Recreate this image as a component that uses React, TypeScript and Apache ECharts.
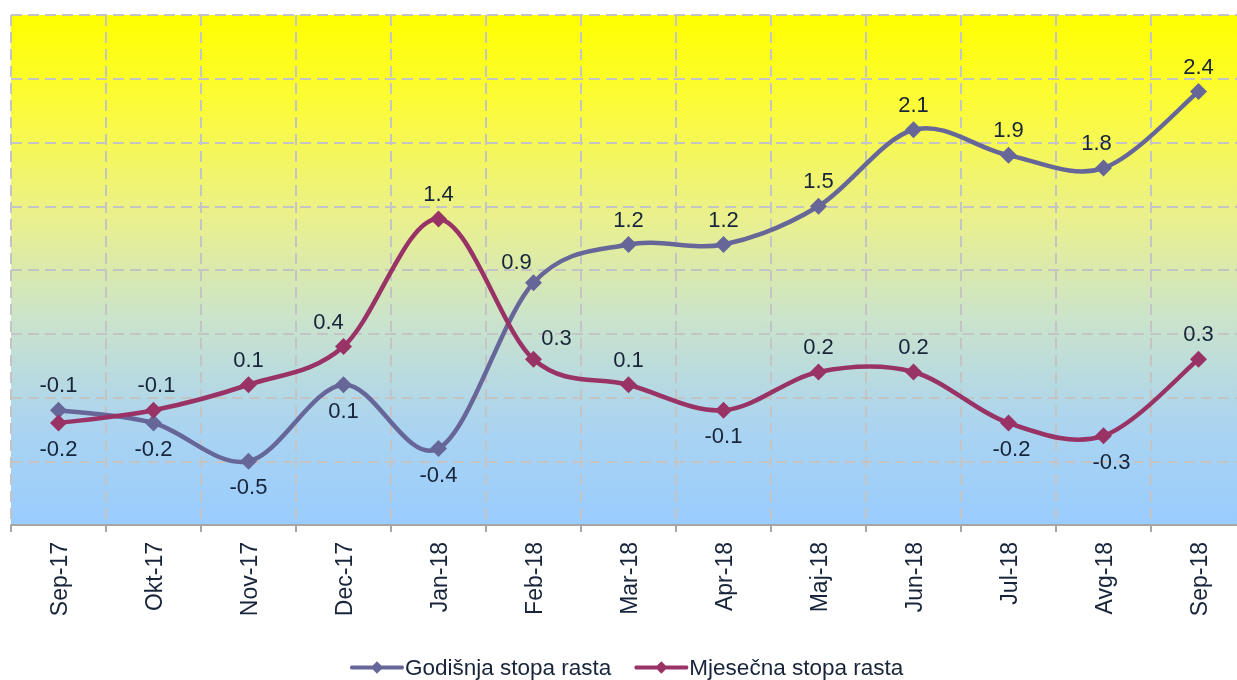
import React, { useEffect, useRef } from "react";
import * as echarts from "echarts";

const categories = ["Sep-17", "Okt-17", "Nov-17", "Dec-17", "Jan-18", "Feb-18", "Mar-18", "Apr-18", "Maj-18", "Jun-18", "Jul-18", "Avg-18", "Sep-18"];
const annualValues = [-0.1, -0.2, -0.5, 0.1, -0.4, 0.9, 1.2, 1.2, 1.5, 2.1, 1.9, 1.8, 2.4];
const monthlyValues = [-0.2, -0.1, 0.1, 0.4, 1.4, 0.3, 0.1, -0.1, 0.2, 0.2, -0.2, -0.3, 0.3];
// label placement: "t" above, "b" below
const annualLabelPos = ["t", "b", "b", "b", "b", "t", "t", "t", "t", "t", "t", "t", "t"];
const monthlyLabelPos = ["b", "t", "t", "t", "t", "t", "t", "b", "t", "t", "b", "b", "t"];
const annualLabelOffset: number[][] = [[0, 0], [0, 0], [0, 0], [0, 0], [0, 0], [-17, 4], [0, 0], [0, 0], [0, 0], [0, 0], [0, 0], [-7, 0], [0, 0]];
const monthlyLabelOffset: number[][] = [[0, 0], [3, 0], [0, 0], [-15, 0], [0, 0], [23, 4], [0, 0], [0, 0], [0, 0], [0, 0], [3, 0], [8, 0], [0, 0]];

const LABEL_COLOR = "#17243a";
const ANNUAL_COLOR = "#666699";
const MONTHLY_COLOR = "#993366";
const FONT = "Liberation Sans, Arial, sans-serif";

function buildData(values: number[], pos: string[], offs: number[][]) {
  return values.map((v, i) => ({
    value: v,
    label: {
      position: pos[i] === "t" ? "top" : "bottom",
      offset: offs[i],
    },
  }));
}

// Excel-like smoothed segment (Catmull-Rom style Bezier) drawn through the axes' scales
function makeCurveRenderer(values: number[], color: string) {
  return (params: any, api: any) => {
    const i = params.dataIndex;
    const n = values.length;
    if (i >= n - 1) return null;
    const p = (j: number) => {
      const k = Math.max(0, Math.min(n - 1, j));
      return api.coord([k, values[k]]);
    };
    const p0 = p(i - 1);
    const p1 = p(i);
    const p2 = p(i + 1);
    const p3 = p(i + 2);
    const t = 1 / 6;
    return {
      type: "bezierCurve",
      shape: {
        x1: p1[0],
        y1: p1[1],
        cpx1: p1[0] + (p2[0] - p0[0]) * t,
        cpy1: p1[1] + (p2[1] - p0[1]) * t,
        cpx2: p2[0] - (p3[0] - p1[0]) * t,
        cpy2: p2[1] - (p3[1] - p1[1]) * t,
        x2: p2[0],
        y2: p2[1],
      },
      style: { stroke: color, lineWidth: 4.5, fill: null, lineCap: "round" },
    };
  };
}

const legendIcon = "path://M2,5 L52,5 Q54,7 52,9 L2,9 Q0,7 2,5 Z M27,1 L33,7 L27,13 L21,7 Z";

export default function App() {
  const ref = useRef<HTMLDivElement>(null);
  useEffect(() => {
    if (!ref.current) return;
    const chart = echarts.init(ref.current, undefined, { renderer: "svg" });
    const labelCommon = {
      show: true,
      color: LABEL_COLOR,
      fontSize: 22,
      fontFamily: FONT,
      distance: 6,
    };
    const gridLine = { color: "#c4c4c4", width: 2, type: [11, 6] };
    chart.setOption({
      animation: false,
      grid: {
        left: 11,
        top: 15,
        width: 1235,
        height: 510,
        outerBoundsMode: "none",
        containLabel: false,
        show: true,
        borderWidth: 0,
        backgroundColor: {
          type: "linear",
          x: 0,
          y: 0,
          x2: 0,
          y2: 1,
          colorStops: [
            { offset: 0, color: "#ffff00" },
            { offset: 0.18, color: "#fbfb3a" },
            { offset: 0.4, color: "#eaf08e" },
            { offset: 0.6, color: "#cae3cc" },
            { offset: 0.8, color: "#abd4ef" },
            { offset: 1, color: "#99ccff" },
          ],
        },
      },
      legend: {
        left: 350,
        top: 656,
        padding: 0,
        itemWidth: 54,
        itemHeight: 14,
        itemGap: 23,
        textStyle: {
          color: LABEL_COLOR,
          fontSize: 22.5,
          fontFamily: FONT,
          padding: [0, 0, 0, -4],
        },
        data: [
          { name: "Godišnja stopa rasta", icon: legendIcon, itemStyle: { color: ANNUAL_COLOR } },
          { name: "Mjesečna stopa rasta", icon: legendIcon, itemStyle: { color: MONTHLY_COLOR } },
        ],
      },
      xAxis: {
        type: "category",
        data: categories,
        boundaryGap: true,
        axisLine: { show: true, onZero: false, lineStyle: { color: "#a6a6a6", width: 2 } },
        axisTick: { show: true, length: 7, interval: 0, lineStyle: { color: "#a6a6a6", width: 2 } },
        axisLabel: {
          interval: 0,
          rotate: 90,
          margin: 17,
          color: LABEL_COLOR,
          fontSize: 23,
          fontFamily: FONT,
        },
        splitLine: { show: true, interval: 0, lineStyle: gridLine },
      },
      yAxis: {
        type: "value",
        min: -1,
        max: 3,
        interval: 0.5,
        axisLabel: { show: false },
        axisLine: { show: false },
        axisTick: { show: false },
        splitLine: { show: true, lineStyle: gridLine },
      },
      series: [
        {
          name: "Godišnja stopa rasta",
          type: "custom",
          coordinateSystem: "cartesian2d",
          renderItem: makeCurveRenderer(annualValues, ANNUAL_COLOR),
          data: annualValues.map((v, i) => [i, v]),
          encode: { x: 0, y: 1 },
          silent: true,
          z: 2,
        },
        {
          name: "Mjesečna stopa rasta",
          type: "custom",
          coordinateSystem: "cartesian2d",
          renderItem: makeCurveRenderer(monthlyValues, MONTHLY_COLOR),
          data: monthlyValues.map((v, i) => [i, v]),
          encode: { x: 0, y: 1 },
          silent: true,
          z: 3,
        },
        {
          name: "Godišnja stopa rasta",
          type: "line",
          symbol: "diamond",
          symbolSize: 17,
          color: ANNUAL_COLOR,
          lineStyle: { width: 0, opacity: 0 },
          itemStyle: { color: ANNUAL_COLOR },
          label: labelCommon,
          data: buildData(annualValues, annualLabelPos, annualLabelOffset),
          z: 4,
        },
        {
          name: "Mjesečna stopa rasta",
          type: "line",
          symbol: "diamond",
          symbolSize: 17,
          color: MONTHLY_COLOR,
          lineStyle: { width: 0, opacity: 0 },
          itemStyle: { color: MONTHLY_COLOR },
          label: labelCommon,
          data: buildData(monthlyValues, monthlyLabelPos, monthlyLabelOffset),
          z: 5,
        },
      ],
    });
    return () => chart.dispose();
  }, []);
  return (
    <div
      ref={ref}
      style={{ position: "fixed", left: 0, top: 0, width: 1237, height: 680 }}
    />
  );
}
